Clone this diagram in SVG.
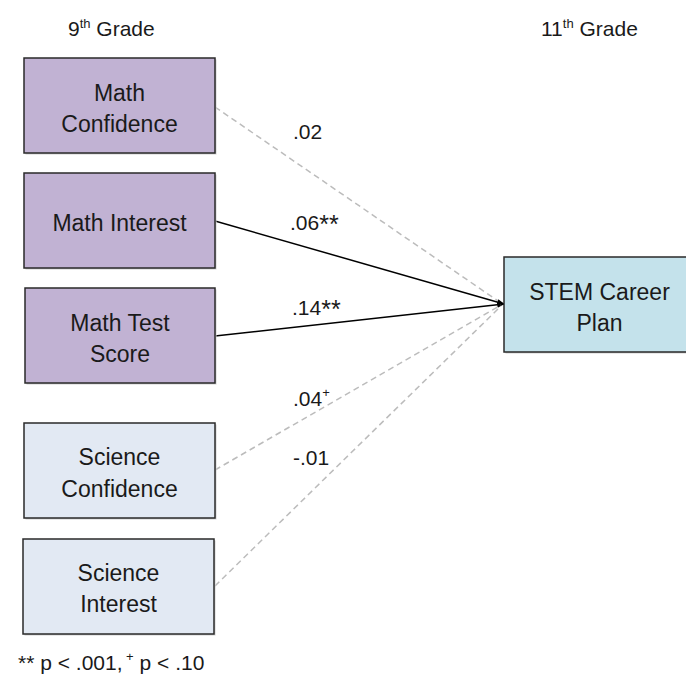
<svg xmlns="http://www.w3.org/2000/svg" width="686" height="685" viewBox="0 0 686 685">
<style>
text{font-family:"Liberation Sans",Arial,sans-serif;fill:#1a1a1a}
.hd{font-size:21px}
.bx{font-size:23px;text-anchor:middle}
.lb{font-size:21px}
.ast{font-size:25px}
.box{stroke:#2a2a2a;stroke-width:1.5}
.math{fill:#c1b2d3}
.sci{fill:#e2e9f3}
.stem{fill:#c4e2eb}
.sh{fill:#d0d0d0}
.dash{stroke:#bcbcbc;stroke-width:1.5;stroke-dasharray:6,4;fill:none}
.solid{stroke:#000;stroke-width:1.5;fill:none}
</style>
<defs>
<marker id="ah" viewBox="0 0 10 10" refX="9" refY="5" markerWidth="5" markerHeight="5" orient="auto" markerUnits="strokeWidth">
<path d="M0,1 L10,5 L0,9 z" fill="#000"/>
</marker>
</defs>
<rect width="686" height="685" fill="#fff"/>
<g id="headers">
<text class="hd" x="68" y="36">9<tspan font-size="13" dy="-8">th</tspan><tspan dy="8"> Grade</tspan></text>
<text class="hd" x="541" y="36">11<tspan font-size="13" dy="-8">th</tspan><tspan dy="8"> Grade</tspan></text>
</g>
<g id="connectors">
<line class="dash" x1="215" y1="107" x2="501" y2="303"/>
<line class="solid" x1="215" y1="221" x2="504" y2="304" marker-end="url(#ah)"/>
<line class="solid" x1="215" y1="336" x2="504" y2="304" marker-end="url(#ah)"/>
<line class="dash" x1="215" y1="470" x2="501" y2="305"/>
<line class="dash" x1="215" y1="586" x2="501" y2="306"/>
</g>
<g id="labels">
<text class="lb" x="293" y="139">.02</text>
<text class="lb" x="290" y="230">.06<tspan class="ast" dy="3">**</tspan></text>
<text class="lb" x="292" y="315">.14<tspan class="ast" dy="3">**</tspan></text>
<text class="lb" x="293" y="406">.04<tspan font-size="13" dy="-9">+</tspan></text>
<text class="lb" x="293" y="465">-.01</text>
</g>
<g id="math-confidence">
<rect class="sh" x="25.5" y="59.5" width="191" height="95"/>
<rect class="box math" x="24" y="58" width="191" height="95"/>
<text class="bx" x="119.5" y="101">Math</text>
<text class="bx" x="119.5" y="132">Confidence</text>
</g>
<g id="math-interest">
<rect class="sh" x="25.5" y="174.5" width="191" height="95"/>
<rect class="box math" x="24" y="173" width="191" height="95"/>
<text class="bx" x="119.5" y="231">Math Interest</text>
</g>
<g id="math-test-score">
<rect class="sh" x="26.5" y="289.5" width="190" height="95"/>
<rect class="box math" x="25" y="288" width="190" height="95"/>
<text class="bx" x="120" y="331">Math Test</text>
<text class="bx" x="120" y="362">Score</text>
</g>
<g id="science-confidence">
<rect class="sh" x="25.5" y="424.5" width="191" height="95"/>
<rect class="box sci" x="24" y="423" width="191" height="95"/>
<text class="bx" x="119.5" y="465">Science</text>
<text class="bx" x="119.5" y="497">Confidence</text>
</g>
<g id="science-interest">
<rect class="sh" x="24.5" y="540.5" width="191" height="95"/>
<rect class="box sci" x="23" y="539" width="191" height="95"/>
<text class="bx" x="118.5" y="581">Science</text>
<text class="bx" x="118.5" y="612">Interest</text>
</g>
<g id="stem-career-plan">
<rect class="sh" x="505.5" y="258.5" width="190" height="95"/>
<rect class="box stem" x="504" y="257" width="190" height="95"/>
<text class="bx" x="599.5" y="300">STEM Career</text>
<text class="bx" x="599.5" y="331">Plan</text>
</g>
<g id="footnote">
<text class="lb" x="18" y="670">** p &lt; .001,<tspan font-size="13" dy="-9"> +</tspan><tspan dy="9"> p &lt; .10</tspan></text>
</g>
</svg>
